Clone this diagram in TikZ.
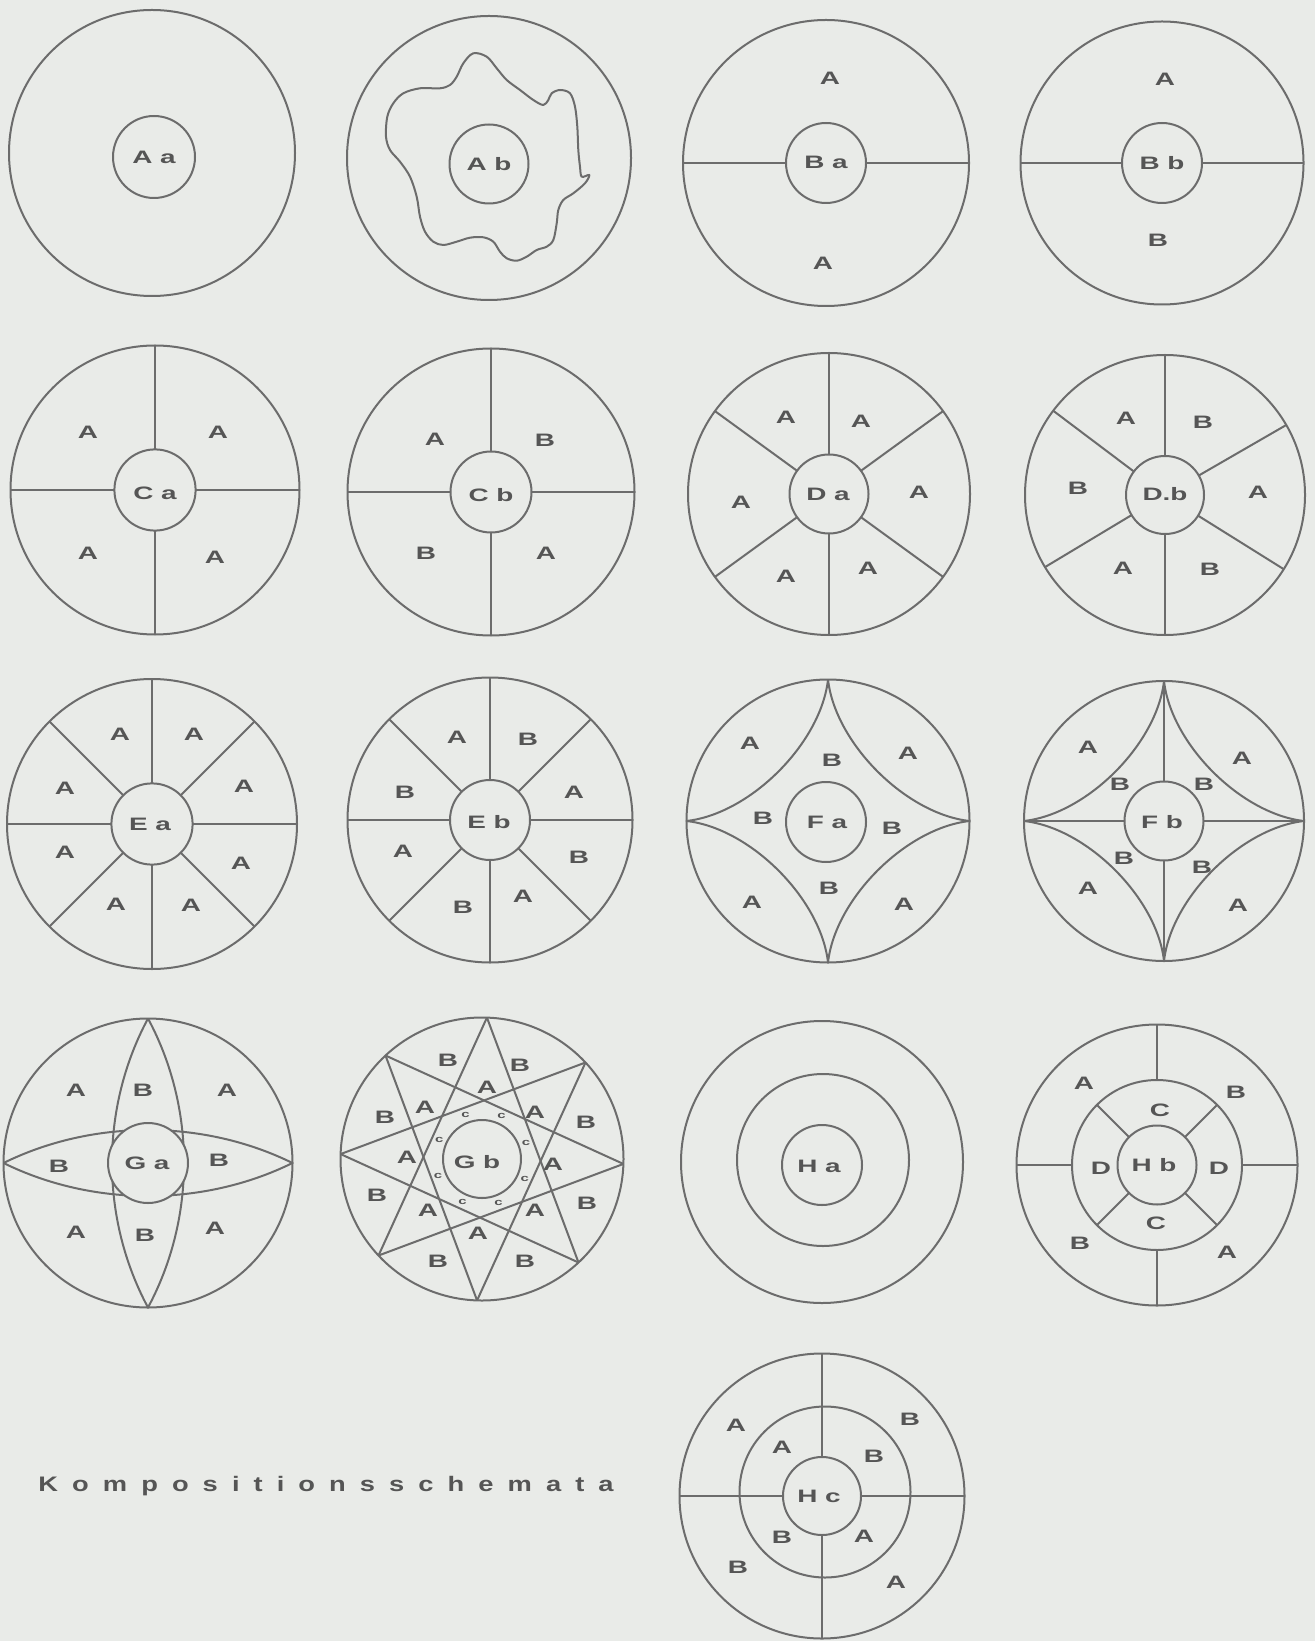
\documentclass[tikz,border=0pt]{standalone}
\usepackage{fontspec}
\newfontfamily\labfam[FakeStretch=1.55]{Liberation Sans}
\newfontfamily\capfam[FakeStretch=1.3,LetterSpace=67]{Liberation Sans}
\definecolor{bg}{RGB}{233,235,232}
\definecolor{lc}{RGB}{108,108,108}
\definecolor{tc}{RGB}{85,85,85}
\newcommand\putlab[4]{\node[lab] (#1) at (#2,-#3) {#4};}
\begin{document}
\begin{tikzpicture}[x=0.5pt,y=0.5pt,
  ln/.style={draw=lc,line width=1pt,line join=round},
  innerc/.style={draw=lc,line width=1pt,fill=bg},
  lab/.style={text=tc,inner sep=0pt,font=\labfam\bfseries\fontsize{9}{10}\selectfont},
  tinylab/.style={text=tc,inner sep=0pt,font=\labfam\bfseries\fontsize{4.8}{5}\selectfont}]
\fill[bg] (0,0) rectangle (1315,-1641);
\useasboundingbox (0,0) rectangle (1315,-1641);

% ---------- Aa
\begin{scope}[shift={(152,-153)}]
\draw[ln] (0,0) circle[radius=143];
\draw[innerc] (2,-4) circle[radius=41];
\end{scope}
\putlab{Aa}{154}{157}{A a}

% ---------- Ab
\draw[ln] plot[smooth cycle,tension=0.55] coordinates {
(473.3,-53.3) (486.7,-56.7) (496.7,-68.3) (506.7,-80) (520,-90) (533.3,-100) (543.3,-105)
(548.3,-100) (551.7,-93.3) (560,-90) (570,-93.3) (575,-106.7) (577.3,-126.7) (578.3,-150)
(580,-166.7) (581.7,-176.7) (589.3,-175) (585,-183.3) (573.3,-193.3) (563.3,-200) (558.3,-210)
(556.7,-223.3) (553.3,-240) (546.7,-246.7) (536.7,-250) (526.7,-256.7) (516.7,-260.7)
(506.7,-258.3) (500,-251.7) (493.3,-241.7) (483.3,-237.3) (470,-237.7) (456.7,-241.7)
(443.3,-245) (433.3,-241.7) (425,-231.7) (420,-216.7) (416.7,-196.7) (410,-176.7) (400,-161.7)
(390,-150) (386,-136.7) (387.3,-116.7) (393.3,-103.3) (403.3,-93.3) (420,-88.3) (440,-88.3)
(450,-85) (456.7,-76.7) (463.3,-63.3)};
\begin{scope}[shift={(489,-158)}]
\draw[ln] (0,0) circle[radius=142];
\draw[innerc] (0,-6) circle[radius=39.5];
\end{scope}
\putlab{Ab}{489}{164}{A b}

% ---------- Ba
\begin{scope}[shift={(826,-163)}]
\draw[ln] (0,0) circle[radius=143];
\draw[ln] (-143,0) -- (-40,0) (40,0) -- (143,0);
\draw[innerc] (0,0) circle[radius=40];
\end{scope}
\putlab{Ba}{826}{162}{B a}
\putlab{Ba1}{830}{78}{A}
\putlab{Ba2}{823}{263}{A}

% ---------- Bb
\begin{scope}[shift={(1162,-163)}]
\draw[ln] (0,0) circle[radius=141.5];
\draw[ln] (-141.5,0) -- (-40,0) (40,0) -- (141.5,0);
\draw[innerc] (0,0) circle[radius=40];
\end{scope}
\putlab{Bb}{1162}{163}{B b}
\putlab{Bb1}{1165}{79}{A}
\putlab{Bb2}{1158}{240}{B}

% ---------- Ca
\begin{scope}[shift={(155,-490)}]
\draw[ln] (0,0) circle[radius=144.5];
\foreach \a in {0,90,180,270} \draw[ln] (\a:40.6) -- (\a:144.5);
\draw[innerc] (0,0) circle[radius=40.6];
\end{scope}
\putlab{Ca}{155}{493}{C a}
\putlab{Ca1}{88}{432}{A}
\putlab{Ca2}{218}{432}{A}
\putlab{Ca3}{88}{553}{A}
\putlab{Ca4}{215}{557}{A}

% ---------- Cb
\begin{scope}[shift={(491,-492)}]
\draw[ln] (0,0) circle[radius=143.5];
\foreach \a in {0,90,180,270} \draw[ln] (\a:40.5) -- (\a:143.5);
\draw[innerc] (0,0) circle[radius=40.5];
\end{scope}
\putlab{Cb}{491}{495}{C b}
\putlab{Cb1}{435}{439}{A}
\putlab{Cb2}{545}{440}{B}
\putlab{Cb3}{426}{553}{B}
\putlab{Cb4}{546}{553}{A}

% ---------- Da
\begin{scope}[shift={(829,-494)}]
\draw[ln] (0,0) circle[radius=141];
\foreach \a in {36,90,144,216,270,324} \draw[ln] (\a:39.5) -- (\a:141);
\draw[innerc] (0,0) circle[radius=39.5];
\end{scope}
\putlab{Da}{828}{494}{D a}
\putlab{Da1}{786}{417}{A}
\putlab{Da2}{861}{421}{A}
\putlab{Da3}{741}{502}{A}
\putlab{Da4}{919}{492}{A}
\putlab{Da5}{786}{576}{A}
\putlab{Da6}{868}{568}{A}

% ---------- Db
\begin{scope}[shift={(1165,-495)}]
\draw[ln] (0,0) circle[radius=140];
\foreach \a in {30,90,143,211,270,328} \draw[ln] (\a:39) -- (\a:140);
\draw[innerc] (0,0) circle[radius=39];
\end{scope}
\putlab{Db}{1165}{494}{D.b}
\putlab{Db1}{1126}{418}{A}
\putlab{Db2}{1203}{422}{B}
\putlab{Db3}{1078}{488}{B}
\putlab{Db4}{1258}{492}{A}
\putlab{Db5}{1123}{568}{A}
\putlab{Db6}{1210}{569}{B}

% ---------- Ea
\begin{scope}[shift={(152,-824)}]
\draw[ln] (0,0) circle[radius=145];
\foreach \a in {0,45,...,315} \draw[ln] (\a:40.6) -- (\a:145);
\draw[innerc] (0,0) circle[radius=40.6];
\end{scope}
\putlab{Ea}{150}{824}{E a}
\putlab{Ea1}{120}{734}{A}
\putlab{Ea2}{194}{734}{A}
\putlab{Ea3}{65}{788}{A}
\putlab{Ea4}{244}{786}{A}
\putlab{Ea5}{65}{852}{A}
\putlab{Ea6}{241}{863}{A}
\putlab{Ea7}{116}{904}{A}
\putlab{Ea8}{191}{905}{A}

% ---------- Eb
\begin{scope}[shift={(490,-820)}]
\draw[ln] (0,0) circle[radius=142.5];
\foreach \a in {0,45,...,315} \draw[ln] (\a:40) -- (\a:142.5);
\draw[innerc] (0,0) circle[radius=40];
\end{scope}
\putlab{Eb}{489}{822}{E b}
\putlab{Eb1}{457}{737}{A}
\putlab{Eb2}{528}{739}{B}
\putlab{Eb3}{405}{792}{B}
\putlab{Eb4}{574}{792}{A}
\putlab{Eb5}{403}{851}{A}
\putlab{Eb6}{579}{857}{B}
\putlab{Eb7}{463}{907}{B}
\putlab{Eb8}{523}{896}{A}

% ---------- Fa
\begin{scope}[shift={(828,-821)}]
\draw[ln] (0,0) circle[radius=141.5];
\draw[ln] (0,141.5) .. controls (7.1,77.8) and (77.8,7.1) .. (141.5,0)
  .. controls (77.8,-7.1) and (7.1,-77.8) .. (0,-141.5)
  .. controls (-7.1,-77.8) and (-77.8,-7.1) .. (-141.5,0)
  .. controls (-77.8,7.1) and (-7.1,77.8) .. (0,141.5);
\draw[innerc] (-2,-1) circle[radius=40];
\end{scope}
\putlab{Fa}{827}{822}{F a}
\putlab{Fa1}{750}{743}{A}
\putlab{Fa2}{832}{760}{B}
\putlab{Fa3}{908}{753}{A}
\putlab{Fa4}{763}{818}{B}
\putlab{Fa5}{892}{828}{B}
\putlab{Fa6}{829}{888}{B}
\putlab{Fa7}{752}{902}{A}
\putlab{Fa8}{904}{904}{A}

% ---------- Fb
\begin{scope}[shift={(1164,-821)}]
\draw[ln] (0,0) circle[radius=140];
\draw[ln] (0,140) .. controls (7,77) and (77,7) .. (140,0)
  .. controls (77,-7) and (7,-77) .. (0,-140)
  .. controls (-7,-77) and (-77,-7) .. (-140,0)
  .. controls (-77,7) and (-7,77) .. (0,140);
\foreach \a in {0,90,180,270} \draw[ln] (\a:39.5) -- (\a:140);
\draw[innerc] (0,0) circle[radius=39.5];
\end{scope}
\putlab{Fb}{1162}{822}{F b}
\putlab{Fb1}{1088}{747}{A}
\putlab{Fb2}{1242}{758}{A}
\putlab{Fb3}{1120}{784}{B}
\putlab{Fb4}{1204}{784}{B}
\putlab{Fb5}{1124}{858}{B}
\putlab{Fb6}{1202}{867}{B}
\putlab{Fb7}{1088}{888}{A}
\putlab{Fb8}{1238}{905}{A}

% ---------- Ga
\begin{scope}[shift={(148,-1163)}]
\draw[ln] (0,0) circle[radius=144.5];
\draw[ln] (0,144.5) .. controls (48,55) and (48,-55) .. (0,-144.5)
  .. controls (-48,-55) and (-48,55) .. (0,144.5);
\draw[ln] (-144.5,0) .. controls (-55,44) and (55,44) .. (144.5,0)
  .. controls (55,-44) and (-55,-44) .. (-144.5,0);
\draw[innerc] (0,0) circle[radius=40];
\end{scope}
\putlab{Ga}{147}{1163}{G a}
\putlab{Ga1}{76}{1090}{A}
\putlab{Ga2}{143}{1090}{B}
\putlab{Ga3}{227}{1090}{A}
\putlab{Ga4}{59}{1166}{B}
\putlab{Ga5}{219}{1160}{B}
\putlab{Ga6}{76}{1232}{A}
\putlab{Ga7}{145}{1235}{B}
\putlab{Ga8}{215}{1228}{A}

% ---------- Gb
\begin{scope}[shift={(482,-1159)}]
\draw[ln] (0,0) circle[radius=141.5];
\foreach \k in {0,...,7} \draw[ln] ({-2+45*\k}:141.5) -- ({133+45*\k}:141.5);
\draw[innerc] (0,0) circle[radius=39];
\foreach \k in {0,...,7} \node[tinylab] (gbc\k) at ({20.5+45*\k}:47) {c};
\end{scope}
\putlab{Gb}{477}{1162}{G b}
\putlab{Gb1}{448}{1060}{B}
\putlab{Gb2}{520}{1065}{B}
\putlab{Gb3}{487}{1087}{A}
\putlab{Gb4}{385}{1117}{B}
\putlab{Gb5}{425}{1107}{A}
\putlab{Gb6}{535}{1112}{A}
\putlab{Gb7}{586}{1122}{B}
\putlab{Gb8}{407}{1157}{A}
\putlab{Gb9}{553}{1164}{A}
\putlab{Gb10}{377}{1195}{B}
\putlab{Gb11}{587}{1203}{B}
\putlab{Gb12}{428}{1210}{A}
\putlab{Gb13}{535}{1210}{A}
\putlab{Gb14}{478}{1233}{A}
\putlab{Gb15}{438}{1261}{B}
\putlab{Gb16}{525}{1261}{B}

% ---------- Ha
\begin{scope}[shift={(822,-1162)}]
\draw[ln] (0,0) circle[radius=141];
\draw[ln] (1,2) circle[radius=86];
\draw[innerc] (0,-3) circle[radius=40];
\end{scope}
\putlab{Ha}{819}{1166}{H a}

% ---------- Hb
\begin{scope}[shift={(1157,-1165)}]
\draw[ln] (0,0) circle[radius=140.5];
\draw[ln] (0,0) circle[radius=85];
\foreach \a in {0,90,180,270} \draw[ln] (\a:85) -- (\a:140.5);
\foreach \a in {45,135,225,315} \draw[ln] (\a:39.5) -- (\a:85);
\draw[innerc] (0,0) circle[radius=39.5];
\end{scope}
\putlab{Hb}{1154}{1165}{H b}
\putlab{Hb1}{1084}{1083}{A}
\putlab{Hb2}{1236}{1092}{B}
\putlab{Hb3}{1160}{1110}{C}
\putlab{Hb4}{1101}{1168}{D}
\putlab{Hb5}{1219}{1168}{D}
\putlab{Hb6}{1156}{1223}{C}
\putlab{Hb7}{1080}{1243}{B}
\putlab{Hb8}{1227}{1252}{A}

% ---------- Hc
\begin{scope}[shift={(822,-1496)}]
\draw[ln] (0,0) circle[radius=142.5];
\draw[ln] (3,4) circle[radius=85.5];
\foreach \a in {0,90,180,270} \draw[ln] (\a:39) -- (\a:142.5);
\draw[innerc] (0,0) circle[radius=39];
\end{scope}
\putlab{Hc}{819}{1496}{H c}
\putlab{Hc1}{736}{1425}{A}
\putlab{Hc2}{910}{1419}{B}
\putlab{Hc3}{782}{1447}{A}
\putlab{Hc4}{874}{1456}{B}
\putlab{Hc5}{782}{1537}{B}
\putlab{Hc6}{864}{1536}{A}
\putlab{Hc7}{738}{1567}{B}
\putlab{Hc8}{896}{1582}{A}

% ---------- caption
\node[text=tc,inner sep=0pt,anchor=base west,font=\capfam\bfseries\fontsize{10.5}{12}\selectfont] (cap) at (38,-1491) {Kompositionsschemata};
\end{tikzpicture}
\end{document}
